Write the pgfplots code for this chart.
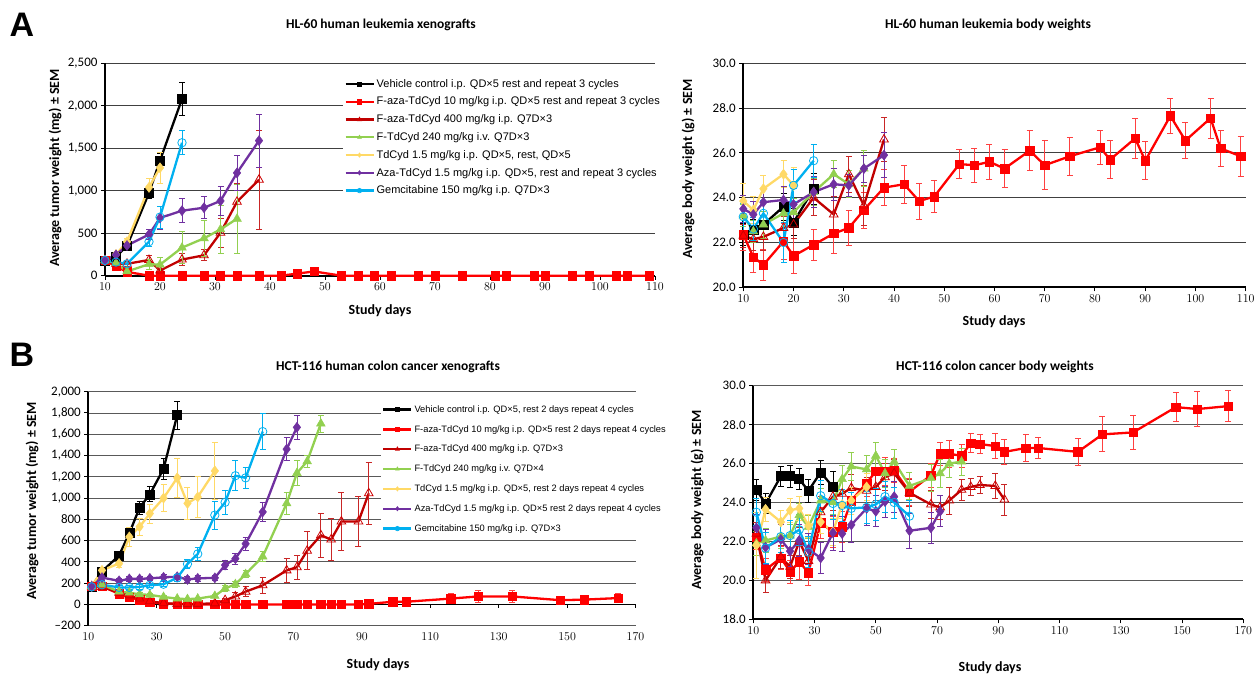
\documentclass[border=0pt]{standalone}
\usepackage{pgfplots}
\pgfplotsset{compat=1.18}
\usepackage{fontspec}
\setmainfont{Carlito}
\newfontfamily\legfont{Liberation Sans}
\definecolor{cR}{HTML}{FF0000}
\definecolor{cDR}{HTML}{C00000}
\definecolor{cG}{HTML}{92D050}
\definecolor{cY}{HTML}{FFD966}
\definecolor{cP}{HTML}{7030A0}
\definecolor{cC}{HTML}{00B0F0}
\pgfplotsset{
  excel/.style={scale only axis, clip=false,
    axis x line*=bottom, axis y line*=left,
    axis line style={line width=1.8pt,-},
    ymajorgrids, grid style={line width=0.9pt, black!75},
    tick align=outside, major tick length=4pt,
    tick style={black, line width=1pt},
    tick label style={font=\fontsize{13}{14}\selectfont},
    legend cell align=left,
    legend image code/.code={\draw[mark repeat=2,mark phase=2,##1, mark size=2.2pt] plot coordinates {(0pt,0pt) (14pt,0pt) (28pt,0pt)};},
  },
  eb/.style={/pgfplots/error bars/y dir=both, /pgfplots/error bars/y explicit,
    /pgfplots/error bars/error bar style={line width=0.8pt,#1},
    /pgfplots/error bars/error mark options={rotate=90, line width=0.8pt, mark size=3pt, #1}},
  sveh/.style={black, line width=2.3pt, mark=square*, mark size=4.5pt, mark options={line width=0.5pt}},
  sfa/.style={cR, line width=2.3pt, mark=square*, mark size=4.2pt, mark options={line width=0.5pt}},
  sfb/.style={cDR, line width=2.3pt, mark=triangle, mark size=5pt, mark options={line width=0.8pt, fill=white, draw=cR!80!black}},
  sft/.style={cG, line width=2.3pt, mark=triangle*, mark size=5pt, mark options={line width=0.5pt}},
  std/.style={cY, line width=2.3pt, mark=diamond*, mark size=5pt, mark options={line width=0.5pt}},
  saz/.style={cP, line width=2.3pt, mark=diamond*, mark size=5pt, mark options={line width=0.5pt}},
  sgm/.style={cC, line width=2.3pt, mark=o, mark size=4.2pt, mark options={line width=0.8pt}},
}
\begin{document}
\begin{tikzpicture}
\useasboundingbox (0,0) rectangle (1255pt,677pt);
% panel letters and titles
\node[font=\legfont\bfseries\fontsize{34}{34}\selectfont] at (22pt,652pt) {A};
\node[font=\legfont\bfseries\fontsize{34}{34}\selectfont] at (22pt,322pt) {B};
\node[font=\bfseries\fontsize{13.5}{15}\selectfont] at (381pt,652pt) {HL-60 human leukemia xenografts};
\node[font=\bfseries\fontsize{13.5}{15}\selectfont] at (988pt,652pt) {HL-60 human leukemia body weights};
\node[font=\bfseries\fontsize{13.5}{15}\selectfont] at (388pt,310pt) {HCT-116 human colon cancer xenografts};
\node[font=\bfseries\fontsize{13.5}{15}\selectfont] at (995pt,310pt) {HCT-116 colon cancer body weights};
\node[font=\bfseries\fontsize{14}{16}\selectfont] at (380pt,366pt) {Study days};
\node[font=\bfseries\fontsize{14}{16}\selectfont] at (994pt,355pt) {Study days};
\node[font=\bfseries\fontsize{14}{16}\selectfont] at (378pt,12pt) {Study days};
\node[font=\bfseries\fontsize{14}{16}\selectfont] at (990pt,9pt) {Study days};
\node[font=\bfseries\fontsize{14}{16}\selectfont, rotate=90] at (55pt,509pt) {Average tumor weight (mg) ± SEM};
\node[font=\bfseries\fontsize{14}{16}\selectfont, rotate=90] at (688pt,508pt) {Average body weight (g) ± SEM};
\node[font=\bfseries\fontsize{14}{16}\selectfont, rotate=90] at (32pt,176pt) {Average tumor weight (mg) ± SEM};
\node[font=\bfseries\fontsize{14}{16}\selectfont, rotate=90] at (697pt,177pt) {Average body weight (g) ± SEM};

% ---------------- A left -----------------
\begin{axis}[excel, at={(105pt,401.3pt)}, anchor=south west, width=550pt, height=212.4pt,
  xmin=10, xmax=110, ymin=0, ymax=2500,
  xtick={10,20,...,110}, ytick={0,500,...,2500},
  yticklabels={0,500,{1,000},{1,500},{2,000},{2,500}},
  legend style={at={(0.433,0.94)}, anchor=north west, draw=none, fill=white, inner sep=1pt,
    font=\legfont\fontsize{11}{13}\selectfont, row sep=4.3pt}]
\addplot[sveh, eb=black] table[y error=e, row sep=\\] {x y e\\ 10 180 20\\ 12 225 30\\ 14 350 40\\ 18 975 70\\ 20 1355 90\\ 24 2080 195\\};
\addlegendentry{Vehicle control i.p. QD×5 rest and repeat 3 cycles}
\addplot[sfa, eb=cR!75] table[y error=e, row sep=\\] {x y e\\ 10 180 20\\ 12 110 20\\ 14 45 15\\ 18 0 3\\ 20 0 3\\ 24 0 2\\ 28 0 2\\ 31 0 2\\ 34 0 2\\ 38 0 2\\ 42 0 2\\ 45 25 10\\ 48 50 15\\ 53 0 2\\ 56 0 2\\ 59 0 2\\ 62 0 2\\ 67 0 2\\ 70 0 2\\ 75 0 2\\ 81 0 2\\ 83 0 2\\ 88 0 2\\ 90 0 2\\ 95 0 2\\ 98 0 2\\ 103 0 2\\ 105 0 2\\ 109 0 2\\};
\addlegendentry{F-aza-TdCyd 10 mg/kg i.p. QD×5 rest and repeat 3 cycles}
\addplot[sfb, eb=cDR!85] table[y error=e, row sep=\\] {x y e\\ 10 180 20\\ 12 140 20\\ 14 140 25\\ 18 185 50\\ 20 60 30\\ 24 190 70\\ 28 240 65\\ 31 505 170\\ 34 870 220\\ 38 1130 580\\};
\addlegendentry{F-aza-TdCyd 400 mg/kg i.p. Q7D×3}
\addplot[sft, eb=cG] table[y error=e, row sep=\\] {x y e\\ 10 180 20\\ 12 150 20\\ 14 50 20\\ 18 135 60\\ 20 130 90\\ 24 330 190\\ 28 440 210\\ 31 545 285\\ 34 670 410\\};
\addlegendentry{F-TdCyd 240 mg/kg i.v. Q7D×3}
\addplot[std, eb=cY] table[y error=e, row sep=\\] {x y e\\ 10 180 20\\ 12 250 30\\ 14 400 40\\ 18 1040 100\\ 20 1270 180\\};
\addlegendentry{TdCyd 1.5 mg/kg i.p. QD×5, rest, QD×5}
\addplot[saz, eb=cP] table[y error=e, row sep=\\] {x y e\\ 10 180 20\\ 12 245 30\\ 14 355 40\\ 18 485 60\\ 20 680 130\\ 24 765 140\\ 28 800 130\\ 31 880 170\\ 34 1210 210\\ 38 1590 310\\};
\addlegendentry{Aza-TdCyd 1.5 mg/kg i.p. QD×5, rest and repeat 3 cycles}
\addplot[sgm, eb=cC] table[y error=e, row sep=\\] {x y e\\ 10 180 20\\ 12 160 20\\ 14 140 25\\ 18 400 60\\ 20 690 130\\ 24 1565 140\\};
\addlegendentry{Gemcitabine 150 mg/kg i.p. Q7D×3}
\end{axis}

% ---------------- A right -----------------
\begin{axis}[excel, at={(743.3pt,389.7pt)}, anchor=south west, width=502.4pt, height=224pt,
  xmin=10, xmax=110, ymin=20, ymax=30,
  xtick={10,20,...,110}, ytick={20,22,...,30},
  yticklabels={20.0,22.0,24.0,26.0,28.0,30.0}]
\addplot[sveh, eb=black] table[y error=e, row sep=\\] {x y e\\ 10 22.35 0.5\\ 12 22.55 0.5\\ 14 22.8 0.6\\ 18 23.6 0.6\\ 20 22.9 0.6\\ 24 24.4 0.7\\};
\addplot[sfa, eb=cR!75] table[y error=e, row sep=\\] {x y e\\ 10 22.35 0.7\\ 12 21.35 0.7\\ 14 21.0 0.7\\ 18 22.05 0.8\\ 20 21.4 0.8\\ 24 21.9 0.7\\ 28 22.4 0.9\\ 31 22.65 0.8\\ 34 23.45 0.8\\ 38 24.45 0.8\\ 42 24.6 0.85\\ 45 23.85 0.8\\ 48 24.05 0.7\\ 53 25.5 0.65\\ 56 25.45 0.75\\ 59 25.6 0.8\\ 62 25.3 0.85\\ 67 26.1 0.9\\ 70 25.45 1.1\\ 75 25.85 0.85\\ 81 26.25 0.75\\ 83 25.7 0.85\\ 88 26.65 0.9\\ 90 25.65 0.85\\ 95 27.65 0.8\\ 98 26.55 0.8\\ 103 27.55 0.9\\ 105 26.2 0.8\\ 109 25.85 0.9\\};
\addplot[sfb, eb=cDR!85] table[y error=e, row sep=\\] {x y e\\ 10 22.3 0.5\\ 12 22.15 0.5\\ 14 22.25 0.6\\ 18 22.65 0.5\\ 20 22.8 0.6\\ 24 24.0 0.8\\ 28 23.25 0.8\\ 31 25.05 0.8\\ 34 23.65 0.9\\ 38 26.6 1.0\\};
\addplot[sft, eb=cG] table[y error=e, row sep=\\] {x y e\\ 10 23.2 0.5\\ 12 22.5 0.5\\ 14 22.8 0.6\\ 18 23.3 0.6\\ 20 23.35 0.6\\ 24 24.25 0.6\\ 28 25.05 0.6\\ 31 24.6 0.6\\ 34 25.3 0.8\\};
\addplot[std, eb=cY] table[y error=e, row sep=\\] {x y e\\ 10 23.85 0.8\\ 12 23.45 0.6\\ 14 24.4 0.6\\ 18 25.05 0.6\\ 20 24.55 0.8\\};
\addplot[saz, eb=cP] table[y error=e, row sep=\\] {x y e\\ 10 23.5 0.6\\ 12 23.25 0.6\\ 14 23.8 0.6\\ 18 23.9 0.6\\ 20 23.7 0.7\\ 24 24.25 0.7\\ 28 24.6 0.7\\ 31 24.55 0.5\\ 34 25.3 0.6\\ 38 25.9 1.0\\};
\addplot[sgm, eb=cC] table[y error=e, row sep=\\] {x y e\\ 10 23.15 0.6\\ 12 22.6 0.5\\ 14 23.3 0.6\\ 18 22.0 0.9\\ 20 24.55 0.7\\ 24 25.65 0.75\\};
\end{axis}

% ---------------- B left -----------------
\begin{axis}[excel, at={(88.3pt,51.3pt)}, anchor=south west, width=547.2pt, height=234pt,
  xmin=10, xmax=170, ymin=-200, ymax=2000,
  xtick={10,30,...,170}, ytick={-200,0,...,2000},
  yticklabels={–200,0,200,400,600,800,{1,000},{1,200},{1,400},{1,600},{1,800},{2,000}},
  x axis line style={draw=none}, xtick style={draw=none}, grid style={line width=0.9pt, black!65},
  legend style={at={(0.535,0.955)}, anchor=north west, draw=none, fill=white, inner sep=1pt,
    font=\legfont\fontsize{9.3}{11}\selectfont, row sep=7.6pt}]
\draw[line width=1.8pt] (axis cs:10,0) -- (axis cs:170,0);
\pgfplotsinvokeforeach{30,50,...,170}{\draw[line width=1pt] (axis cs:#1,0) -- ([yshift=-4pt]axis cs:#1,0);}
\addplot[sveh, eb=black] table[y error=e, row sep=\\] {x y e\\ 11 170 15\\ 14 310 30\\ 19 460 40\\ 22 670 50\\ 25 910 60\\ 28 1035 70\\ 32 1275 95\\ 36 1780 130\\};
\addlegendentry{Vehicle control i.p. QD×5, rest 2 days repeat 4 cycles}
\addplot[sfa, eb=cR!75] table[y error=e, row sep=\\] {x y e\\ 11 170 15\\ 14 170 20\\ 19 100 15\\ 22 65 12\\ 25 45 10\\ 28 20 8\\ 32 8 5\\ 36 3 3\\ 39 0 2\\ 42 0 2\\ 47 0 2\\ 50 0 2\\ 53 0 2\\ 56 0 2\\ 61 0 2\\ 68 0 2\\ 71 0 2\\ 74 0 2\\ 78 0 2\\ 81 0 2\\ 84 0 2\\ 89 0 2\\ 92 5 5\\ 99 25 15\\ 103 25 15\\ 116 55 45\\ 124 75 55\\ 134 75 55\\ 148 40 35\\ 155 45 35\\ 165 60 45\\};
\addlegendentry{F-aza-TdCyd 10 mg/kg i.p. QD×5 rest 2 days repeat 4 cycles}
\addplot[sfb, eb=cDR!85] table[y error=e, row sep=\\] {x y e\\ 11 170 15\\ 14 165 20\\ 19 110 20\\ 22 85 15\\ 25 55 12\\ 28 30 10\\ 32 12 8\\ 36 5 5\\ 39 3 3\\ 42 5 5\\ 47 10 8\\ 50 40 20\\ 53 75 40\\ 56 120 45\\ 61 180 75\\ 68 320 110\\ 71 350 115\\ 74 505 180\\ 78 650 205\\ 81 610 200\\ 84 780 270\\ 89 780 235\\ 92 1045 290\\};
\addlegendentry{F-aza-TdCyd 400 mg/kg i.p. Q7D×3}
\addplot[sft, eb=cG] table[y error=e, row sep=\\] {x y e\\ 11 170 15\\ 14 185 20\\ 19 120 20\\ 22 110 20\\ 25 95 15\\ 28 90 15\\ 32 70 12\\ 36 55 10\\ 39 50 10\\ 42 55 10\\ 47 80 15\\ 50 150 25\\ 53 190 30\\ 56 285 35\\ 61 450 50\\ 68 950 100\\ 71 1235 120\\ 74 1345 60\\ 78 1700 80\\};
\addlegendentry{F-TdCyd 240 mg/kg i.v. Q7D×4}
\addplot[std, eb=cY] table[y error=e, row sep=\\] {x y e\\ 11 170 15\\ 14 320 30\\ 19 385 40\\ 22 635 90\\ 25 730 80\\ 28 855 90\\ 32 1000 125\\ 36 1190 180\\ 39 950 150\\ 42 1010 190\\ 47 1255 270\\};
\addlegendentry{TdCyd 1.5 mg/kg i.p. QD×5, rest 2 days repeat 4 cycles}
\addplot[saz, eb=cP] table[y error=e, row sep=\\] {x y e\\ 11 170 15\\ 14 252 25\\ 19 222 20\\ 22 240 20\\ 25 240 20\\ 28 245 20\\ 32 255 25\\ 36 260 25\\ 39 235 25\\ 42 245 25\\ 47 250 25\\ 50 370 40\\ 53 430 50\\ 56 570 60\\ 61 870 90\\ 68 1460 110\\ 71 1665 110\\};
\addlegendentry{Aza-TdCyd 1.5 mg/kg i.p. QD×5 rest 2 days repeat 4 cycles}
\addplot[sgm, eb=cC] table[y error=e, row sep=\\] {x y e\\ 11 165 15\\ 14 185 20\\ 19 160 20\\ 22 160 20\\ 25 165 20\\ 28 180 20\\ 32 190 25\\ 36 250 30\\ 39 380 40\\ 42 475 60\\ 47 840 130\\ 50 960 115\\ 53 1210 140\\ 56 1190 100\\ 61 1625 170\\};
\addlegendentry{Gemcitabine 150 mg/kg i.p. Q7D×3}
\end{axis}

% ---------------- B right -----------------
\begin{axis}[excel, at={(753.3pt,57.7pt)}, anchor=south west, width=490pt, height=233.6pt,
  xmin=10, xmax=170, ymin=18, ymax=30,
  xtick={10,30,...,170}, ytick={18,20,...,30}, grid style={line width=0.9pt, black!65},
  yticklabels={18.0,20.0,22.0,24.0,26.0,28.0,30.0}]
\addplot[sveh, eb=black] table[y error=e, row sep=\\] {x y e\\ 11 24.65 0.55\\ 14 23.95 0.5\\ 19 25.35 0.5\\ 22 25.35 0.55\\ 25 25.2 0.55\\ 28 24.6 0.6\\ 32 25.55 0.6\\ 36 24.8 0.8\\};
\addplot[sfa, eb=cR!75] table[y error=e, row sep=\\] {x y e\\ 11 22.2 0.6\\ 14 20.55 0.6\\ 19 21.15 0.6\\ 22 20.45 0.6\\ 25 20.95 0.9\\ 28 20.4 0.65\\ 32 22.95 0.8\\ 36 22.5 0.8\\ 39 22.75 0.8\\ 42 24.1 0.7\\ 47 25.0 0.7\\ 50 25.6 0.7\\ 53 25.6 0.7\\ 56 25.65 0.6\\ 61 24.55 0.7\\ 68 25.4 0.6\\ 71 26.5 0.6\\ 74 26.5 0.7\\ 78 26.4 0.6\\ 81 27.05 0.5\\ 84 27.0 0.5\\ 89 26.9 0.65\\ 92 26.6 0.65\\ 99 26.8 0.7\\ 103 26.8 0.55\\ 116 26.6 0.7\\ 124 27.5 0.9\\ 134 27.6 0.85\\ 148 28.9 0.75\\ 155 28.8 0.9\\ 165 28.95 0.8\\};
\addplot[sfb, eb=cDR!85] table[y error=e, row sep=\\] {x y e\\ 11 22.4 0.6\\ 14 20.0 0.6\\ 19 21.2 0.6\\ 22 20.7 0.6\\ 25 22.0 0.7\\ 28 21.0 0.7\\ 32 23.5 0.8\\ 36 24.3 0.7\\ 39 24.45 0.7\\ 42 24.75 0.7\\ 47 24.6 0.7\\ 50 24.8 0.7\\ 53 25.3 0.7\\ 56 25.5 0.7\\ 61 24.5 0.7\\ 68 23.9 0.7\\ 71 23.75 0.6\\ 74 24.1 0.7\\ 78 24.65 0.55\\ 81 24.8 0.45\\ 84 24.9 0.45\\ 89 24.85 0.65\\ 92 24.15 0.8\\};
\addplot[sft, eb=cG] table[y error=e, row sep=\\] {x y e\\ 11 21.9 0.6\\ 14 22.05 0.6\\ 19 22.25 0.6\\ 22 22.3 0.6\\ 25 23.35 0.6\\ 28 22.75 0.6\\ 32 24.1 0.6\\ 36 24.0 0.6\\ 39 25.2 0.7\\ 42 25.85 0.7\\ 47 25.7 0.7\\ 50 26.4 0.7\\ 53 25.5 0.7\\ 56 26.1 0.65\\ 61 24.85 0.7\\ 68 25.25 0.7\\ 71 25.5 0.7\\ 74 26.0 0.7\\ 78 26.1 0.7\\};
\addplot[std, eb=cY] table[y error=e, row sep=\\] {x y e\\ 11 21.8 1.7\\ 14 23.65 0.6\\ 19 23.0 0.6\\ 22 23.6 0.6\\ 25 23.7 0.6\\ 28 22.8 0.6\\ 32 23.0 0.6\\ 36 22.5 0.7\\ 39 23.9 0.7\\ 42 24.1 0.7\\ 47 24.8 0.7\\};
\addplot[saz, eb=cP] table[y error=e, row sep=\\] {x y e\\ 11 22.7 0.7\\ 14 21.7 0.9\\ 19 22.1 0.8\\ 22 21.5 0.8\\ 25 22.05 0.8\\ 28 21.6 0.8\\ 32 21.15 0.8\\ 36 22.45 0.9\\ 39 22.4 0.9\\ 42 22.85 0.9\\ 47 23.7 0.9\\ 50 23.55 0.8\\ 53 24.05 0.8\\ 56 24.3 0.8\\ 61 22.55 0.9\\ 68 22.7 0.8\\ 71 23.55 0.8\\};
\addplot[sgm, eb=cC] table[y error=e, row sep=\\] {x y e\\ 11 23.5 0.7\\ 14 21.65 0.8\\ 19 22.25 0.8\\ 22 22.3 0.8\\ 25 22.6 0.8\\ 28 21.45 0.8\\ 32 24.35 0.8\\ 36 23.95 0.8\\ 39 23.85 0.8\\ 42 23.7 0.8\\ 47 23.75 0.8\\ 50 23.9 0.8\\ 53 24.3 0.8\\ 56 24.0 0.8\\ 61 23.3 0.8\\};
\end{axis}
\end{tikzpicture}
\end{document}
